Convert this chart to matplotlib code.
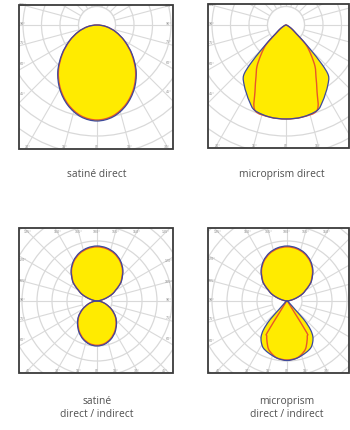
import numpy as np
import matplotlib.pyplot as plt
from matplotlib.patches import Rectangle, Circle, PathPatch
from matplotlib.path import Path

# light distribution curves: angle (deg) from the lobe axis, intensity (scaled)
# satine direct
sd_ang = [0, 10, 20, 30, 40, 50, 60, 70, 80, 90]
sd_c90 = [96, 93.2, 85.4, 74.3, 61, 46, 32, 20, 9.5, 0]
sd_c0 = [95, 92.2, 84.4, 73.3, 60, 45.2, 31.5, 19.7, 9.4, 0]

# microprism direct
md_ang_c90 = [0, 10, 20, 25, 30, 35, 40, 42.5, 45, 47.5, 50, 55, 60, 70, 90]
md_c90 = [94, 93.5, 91, 85.5, 79, 73, 66, 53, 34, 22, 14, 8.5, 4.5, 1.5, 0]
md_ang_c0 = [0, 10, 20, 25, 30, 35, 40, 45, 47.5, 50, 55, 60, 70, 90]
md_c0 = [94, 93.5, 90.8, 73.4, 60, 50.6, 39, 29, 19.5, 12.5, 7.5, 4, 1.2, 0]

# satine direct / indirect (up = indirect lobe, down = direct lobe)
sdi_up_ang = [0, 10, 20, 30, 40, 50, 55, 60, 65, 70, 75, 80, 90]
sdi_up = [55, 54, 51.3, 46.7, 40.3, 32.2, 27.2, 21.5, 17.5, 12, 7, 3, 0]
sdi_dn_ang = [0, 10, 20, 30, 40, 50, 60, 70, 80, 90]
sdi_dn_c90 = [45, 43.9, 40.7, 36, 30.3, 24.2, 17, 10, 4.5, 0]
sdi_dn_c0 = [44.3, 43.2, 40, 35.3, 29.7, 23.7, 16.6, 9.8, 4.4, 0]

# microprism direct / indirect
mdi_up_ang = [0, 10, 20, 30, 40, 50, 55, 60, 65, 70, 75, 80, 90]
mdi_up = [55, 54, 51.3, 46.7, 40.3, 32.2, 27.2, 21.5, 17.5, 12, 7, 3, 0]
mdi_dn_ang_c90 = [0, 10, 20, 27, 32, 36, 39, 41, 42.5, 43.5, 50, 90]
mdi_dn_c90 = [59.5, 58, 55, 52.5, 48.5, 44, 38, 31, 24, 12, 3, 0]
mdi_dn_ang_c0 = [0, 9, 15, 21, 26, 30, 32, 33, 36, 90]
mdi_dn_c0 = [59, 58, 55.5, 51.5, 45.5, 40.5, 37.2, 13, 4, 0]

captions = ["satiné direct", "microprism direct",
            "satiné\ndirect / indirect", "microprism\ndirect / indirect"]

YELLOW = "#ffeb00"
BLUE = "#3c4a9c"
ORANGE = "#e8562a"
GRID = "#d9d9d9"
TXT = "#505050"

fig = plt.figure(figsize=(3.5, 4.31), dpi=100)
ax = fig.add_axes([0, 0, 1, 1])
ax.set_xlim(0, 350)
ax.set_ylim(431, 0)
ax.axis("off")


def lobe_path(ox, oy, ang, r, down=True):
    ang = np.asarray(ang, float)
    r = np.asarray(r, float)
    a = np.radians(np.concatenate([ang, -ang[-2:0:-1]]))
    rr = np.concatenate([r, r[-2:0:-1]])
    s = 1 if down else -1
    pts = np.column_stack([ox + rr * np.sin(a), oy + s * rr * np.cos(a)])
    # closed smooth curve through the points (Catmull-Rom as Bezier)
    n = len(pts)
    verts = [pts[0]]
    codes = [Path.MOVETO]
    for i in range(n):
        p0, p1, p2, p3 = pts[i - 1], pts[i], pts[(i + 1) % n], pts[(i + 2) % n]
        verts += [p1 + (p2 - p0) / 6, p2 - (p3 - p1) / 6, p2]
        codes += [Path.CURVE4] * 3
    return Path(verts, codes)


def panel(box, origin, step, labels):
    x0, y0, x1, y1 = box
    ox, oy = origin
    clip = Rectangle((x0, y0), x1 - x0, y1 - y0, transform=ax.transData)
    for k in range(1, 12):
        c = Circle((ox, oy), k * step, fill=False, ec=GRID, lw=0.9)
        ax.add_patch(c)
        c.set_clip_path(clip)
    for deg in range(0, 360, 15):
        t = np.radians(deg)
        ln, = ax.plot([ox + step * np.sin(t), ox + 300 * np.sin(t)],
                      [oy + step * np.cos(t), oy + 300 * np.cos(t)],
                      color=GRID, lw=0.8)
        ln.set_clip_path(clip)
    for txt, x, y in labels:
        ax.text(x, y, txt, fontsize=2.3, color="#888888", ha="center", va="center")
    return clip


def edge_labels(box, origin, angs, side):
    x0, y0, x1, y1 = box
    ox, oy = origin
    out = []
    for a in angs:
        t = np.radians(a)
        if side == "left":
            y = oy + (ox - x0 - 8) / np.tan(t) if a % 180 else oy
            out.append((f"{a}°", x0 + 4, y - 2))
        elif side == "right":
            y = oy + (x1 - ox - 8) / np.tan(t) if a % 180 else oy
            out.append((f"{a}°", x1 - 4, y - 2))
        elif side == "bottom":
            x = ox + (y1 - oy - 4) * np.tan(t)
            if x < x1 - 4:
                out.append((f"{abs(a)}°", x, y1 - 3))
        else:
            x = ox + (oy - y0 - 4) * np.tan(t)
            if x < x1 - 4:
                out.append((f"{180 - abs(a)}°", x, y0 + 3))
    return out


def draw_lobe(ox, oy, ang_b, r_b, ang_o, r_o, clip, down=True):
    pb = lobe_path(ox, oy, ang_b, r_b, down)
    po = lobe_path(ox, oy, ang_o, r_o, down)
    f = PathPatch(pb, fc=YELLOW, ec="none", zorder=3)
    l1 = PathPatch(po, fill=False, ec=ORANGE, lw=1.0, zorder=4)
    l2 = PathPatch(pb, fill=False, ec=BLUE, lw=0.9, zorder=5)
    for p in (f, l1, l2):
        ax.add_patch(p)
        p.set_clip_path(clip)


# top row
boxes_top = [(19, 6, 173, 150), (208, 5, 349, 149)]
orig_top = [(97, 26), (286, 26)]
for i, (box, org) in enumerate(zip(boxes_top, orig_top)):
    labs = (edge_labels(box, org, [105, 90, 75, 60, 45], "left")
            + edge_labels(box, org, [-30, -15, 0, 15, 30], "bottom"))
    if i == 0:
        labs += edge_labels(box, org, [105, 90, 75, 60, 45], "right")
    clip = panel(box, org, 18.5, labs)
    # inner white disc
    disc = Circle(org, 18.5, fc="white", ec=GRID, lw=0.9, zorder=2)
    ax.add_patch(disc)
    disc.set_clip_path(clip)
    if i == 0:
        draw_lobe(*org, sd_ang, sd_c90, sd_ang, sd_c0, clip)
    else:
        draw_lobe(*org, md_ang_c90, md_c90, md_ang_c0, md_c0, clip)
    ax.add_patch(Rectangle(box[:2], box[2] - box[0], box[3] - box[1],
                           fill=False, ec="#3a3a3a", lw=1.3, zorder=6))

# bottom row
boxes_bot = [(19, 229, 173, 374), (208, 229, 349, 374)]
orig_bot = [(97, 302), (287, 302)]
for i, (box, org) in enumerate(zip(boxes_bot, orig_bot)):
    labs = (edge_labels(box, org, [120, 105, 90, 75, 60], "left")
            + edge_labels(box, org, [-45, -30, -15, 0, 15, 30, 45], "bottom")
            + edge_labels(box, org, [-45, -30, -15, 0, 15, 30, 45], "top"))
    if i == 0:
        labs += edge_labels(box, org, [120, 105, 90, 75, 60], "right")
    clip = panel(box, org, 15, labs)
    if i == 0:
        draw_lobe(*org, sdi_up_ang, sdi_up, sdi_up_ang, [v * 0.985 for v in sdi_up], clip, down=False)
        draw_lobe(*org, sdi_dn_ang, sdi_dn_c90, sdi_dn_ang, sdi_dn_c0, clip)
    else:
        draw_lobe(*org, mdi_up_ang, mdi_up, mdi_up_ang, [v * 0.985 for v in mdi_up], clip, down=False)
        draw_lobe(*org, mdi_dn_ang_c90, mdi_dn_c90, mdi_dn_ang_c0, mdi_dn_c0, clip)
    ax.add_patch(Rectangle(box[:2], box[2] - box[0], box[3] - box[1],
                           fill=False, ec="#3a3a3a", lw=1.3, zorder=6))

# captions
kw = dict(fontsize=7.4, color=TXT, ha="center", va="center", family="Open Sans",
          linespacing=1.35)
ax.text(97, 175, captions[0], **kw)
ax.text(282, 175, captions[1], **kw)
ax.text(97, 408, captions[2], **kw)
ax.text(287, 408, captions[3], **kw)

fig.savefig("out.png", dpi=100)
